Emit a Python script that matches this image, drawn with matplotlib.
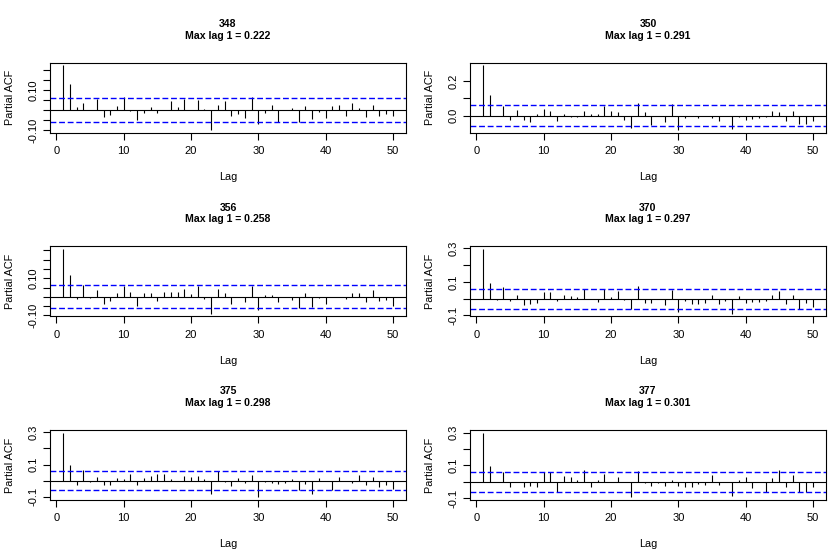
import matplotlib
matplotlib.use("Agg")
import matplotlib.pyplot as plt
import numpy as np

plt.rcParams['font.family'] = ['Liberation Sans', 'DejaVu Sans']

lags = list(range(1, 51))

series_ids = ["348", "350", "356", "370", "375", "377"]

pacf_348 = [0.222, 0.130, 0.013, 0.037, 0.0, 0.057, -0.036, -0.023, 0.022, 0.066,
            -0.003, -0.047, -0.012, 0.013, -0.012, 0.0, 0.047, 0.017, 0.057, 0.0,
            0.052, 0.007, -0.099, 0.026, 0.047, -0.027, -0.020, -0.037, 0.066, -0.069,
            -0.012, 0.026, -0.057, 0.0, 0.012, -0.057, 0.018, -0.046, -0.007, -0.041,
            0.022, 0.026, -0.031, 0.036, 0.012, -0.036, 0.026, -0.031, -0.017, -0.031]
pacf_350 = [0.291, 0.119, 0.0, 0.057, -0.027, 0.034, -0.027, -0.037, 0.008, 0.039,
            0.028, -0.032, 0.012, -0.010, -0.010, 0.028, 0.012, 0.012, 0.053, 0.028,
            0.023, -0.027, -0.070, 0.074, 0.023, -0.055, 0.0, -0.037, 0.068, -0.084,
            -0.015, 0.0, -0.015, 0.0, -0.015, -0.032, 0.0, -0.078, -0.010, -0.027,
            -0.021, -0.015, -0.010, 0.028, 0.023, -0.032, 0.028, -0.049, -0.049, -0.032]
pacf_356 = [0.258, 0.119, -0.012, 0.065, -0.007, 0.039, -0.039, -0.025, 0.019, 0.060,
            0.028, -0.051, 0.018, 0.023, -0.025, 0.028, 0.028, 0.028, 0.044, 0.014,
            0.060, -0.012, -0.092, 0.044, 0.023, -0.039, 0.0, -0.030, 0.060, -0.071,
            0.012, 0.009, -0.030, 0.0, -0.019, -0.058, 0.018, -0.057, -0.007, -0.039,
            0.0, 0.0, -0.010, 0.023, 0.023, -0.030, 0.034, -0.025, -0.019, -0.051]
pacf_370 = [0.297, 0.096, -0.006, 0.073, -0.014, 0.025, -0.037, -0.031, -0.025, 0.039,
            0.039, -0.014, 0.025, 0.014, 0.008, 0.059, 0.0, -0.020, 0.059, 0.008,
            0.045, -0.006, -0.059, 0.078, -0.025, -0.025, 0.0, -0.037, 0.051, -0.082,
            -0.014, -0.031, -0.031, -0.025, 0.025, -0.031, -0.014, -0.090, 0.014, -0.025,
            -0.020, -0.020, -0.014, 0.020, 0.045, -0.031, 0.025, -0.059, -0.025, -0.049]
pacf_375 = [0.298, 0.100, -0.029, 0.069, -0.008, 0.025, -0.029, -0.025, 0.019, 0.008,
            0.044, -0.025, 0.019, 0.031, 0.044, 0.044, 0.013, 0.0, 0.031, 0.025,
            0.031, 0.013, -0.085, 0.062, -0.008, -0.035, 0.019, -0.015, 0.038, -0.104,
            -0.008, -0.015, -0.021, -0.015, 0.013, -0.056, -0.021, -0.085, 0.019, 0.0,
            -0.060, 0.025, 0.0, -0.015, 0.038, -0.029, 0.025, -0.042, -0.029, -0.050]
pacf_377 = [0.301, 0.095, 0.0, 0.062, -0.033, 0.0, -0.033, -0.027, -0.033, 0.062,
            0.062, -0.062, 0.033, 0.027, 0.014, 0.070, -0.033, 0.014, 0.045, 0.0,
            0.027, 0.0, -0.095, 0.068, -0.008, -0.027, -0.008, -0.027, 0.014, -0.027,
            -0.033, -0.033, -0.016, -0.021, 0.041, -0.021, 0.0, -0.089, 0.014, 0.027,
            -0.039, 0.0, -0.062, 0.021, 0.070, -0.033, 0.041, -0.062, -0.062, -0.033]

pacf_values = [pacf_348, pacf_350, pacf_356, pacf_370, pacf_375, pacf_377]
conf_limits = [0.058, 0.059, 0.061, 0.059, 0.059, 0.062]

x_ticks = [0, 10, 20, 30, 40, 50]
y_ticks = [
    [-0.10, -0.05, 0.0, 0.05, 0.10, 0.15, 0.20],
    [0.0, 0.1, 0.2],
    [-0.10, -0.05, 0.0, 0.05, 0.10, 0.15, 0.20, 0.25],
    [-0.1, 0.0, 0.1, 0.2, 0.3],
    [-0.1, 0.0, 0.1, 0.2, 0.3],
    [-0.1, 0.0, 0.1, 0.2, 0.3],
]
y_tick_labels = [
    ["-0.10", "", "", "", "0.10", "", ""],
    ["0.0", "", "0.2"],
    ["-0.10", "", "", "", "0.10", "", "", ""],
    ["-0.1", "", "0.1", "", "0.3"],
    ["-0.1", "", "0.1", "", "0.3"],
    ["-0.1", "", "0.1", "", "0.3"],
]

W, H = 839, 551
fig = plt.figure(figsize=(W / 100, H / 100), dpi=100)
fig.patch.set_facecolor("white")

col_left = [50, 470]
row_top = [62.7, 246.4, 430.0]
ax_w, ax_h = 356, 70

for i in range(6):
    r, c = divmod(i, 2)
    left = col_left[c]
    top = row_top[r]
    ax = fig.add_axes([left / W, (H - top - ax_h) / H, ax_w / W, ax_h / H])
    vals = np.array(pacf_values[i])
    clim = conf_limits[i]
    ax.vlines(lags, 0, vals, colors="black", linewidth=0.8)
    ax.axhline(0, color="black", linewidth=0.8)
    ax.axhline(clim, color="#0000FF", linewidth=1.0, linestyle=(0, (4.2, 2.0)))
    ax.axhline(-clim, color="#0000FF", linewidth=1.0, linestyle=(0, (4.2, 2.0)))
    lo = min(vals.min(), -clim)
    hi = max(vals.max(), clim)
    pad = 0.04 * (hi - lo)
    ax.set_ylim(lo - pad, hi + pad)
    xpad = 0.04 * (lags[-1] - lags[0])
    ax.set_xlim(lags[0] - xpad, lags[-1] + xpad)
    ax.set_xticks(x_ticks)
    ax.set_xticklabels([str(t) for t in x_ticks])
    ax.set_yticks(y_ticks[i])
    ax.set_yticklabels(y_tick_labels[i])
    ax.tick_params(axis="both", direction="out", length=5, width=0.8,
                   labelsize=8, color="black")
    ax.tick_params(axis="x", pad=4.5)
    ax.tick_params(axis="y", pad=3, labelrotation=90)
    for lab in ax.get_yticklabels():
        lab.set_va("center")
    for sp in ax.spines.values():
        sp.set_linewidth(0.8)
        sp.set_color("black")
    ax.set_xlabel("Lag", fontsize=7.8, labelpad=11.5)
    ax.set_ylabel("Partial ACF", fontsize=7.8, labelpad=10)
    ax.annotate(series_ids[i], xy=(0.5, 1.0), xycoords="axes fraction",
                xytext=(0, 27.9), textcoords="offset points",
                ha="center", va="center", fontsize=7.6, fontweight="bold")
    ax.annotate("Max lag 1 = %.3f" % pacf_values[i][0], xy=(0.5, 1.0),
                xycoords="axes fraction", xytext=(0, 19.4),
                textcoords="offset points", ha="center", va="center",
                fontsize=7.6, fontweight="bold")

fig.savefig("out.png", dpi=100, facecolor="white")
